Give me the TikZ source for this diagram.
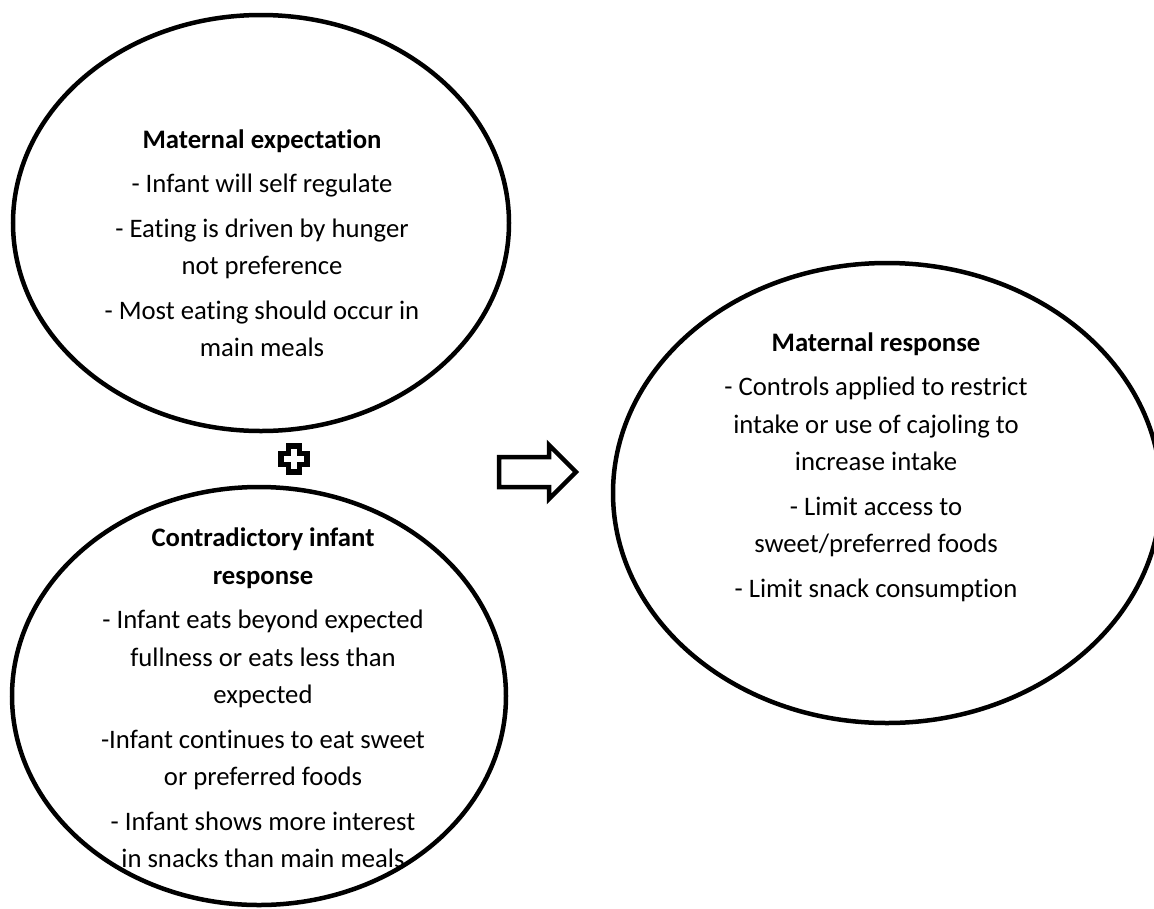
\documentclass[tikz,border=0pt]{standalone}
\usepackage{fontspec}
\setmainfont{Carlito}[Ligatures={NoCommon,NoContextual,NoRare}, RawFeature={-liga;-clig;-calt;-dlig}]
\usetikzlibrary{shapes.geometric,calc}
\tikzset{
  bubble/.style={draw=black, line width=4.5pt, ellipse, inner sep=0pt},
  bubbletext/.style={align=center, inner sep=0pt, font=\fontsize{26.7}{37.5}\selectfont},
  outlineshape/.style={draw=black, line width=4.5pt, line join=miter, fill=white},
  plusshape/.style={draw=black, line width=5.5pt, line join=miter, fill=white},
}
\newcommand{\pgap}{\\[7pt]}
\newcommand{\tI}{t\kern0pt i}
\begin{document}
\begin{tikzpicture}[x=1pt,y=-1pt]
\useasboundingbox (0,0) rectangle (1154,908);
\node[bubble, minimum width=496pt, minimum height=416pt] (expect) at (261,223) {};
\node[bubble, minimum width=494pt, minimum height=418pt] (infant) at (259,696) {};
\node[bubble, minimum width=548pt, minimum height=460pt] (resp) at (887,493) {};

\node[bubbletext] (expecttxt) at (262,243) {\textbf{Maternal expecta\tI on}\pgap
- Infant will self regulate\pgap
- Ea\tI ng is driven by hunger\\ not preference\pgap
- Most ea\tI ng should occur in\\ main meals};

\node[bubbletext] (infanttxt) at (263,698) {\textbf{Contradictory infant}\\ \textbf{response}\pgap
- Infant eats beyond expected\\ fullness or eats less than\\ expected\pgap
-Infant con\tI nues to eat sweet\\ or preferred foods\pgap
- Infant shows more interest\\ in snacks than main meals};

\node[bubbletext] (resptxt) at (876,467) {\textbf{Maternal response}\pgap
- Controls applied to restrict\\ intake or use of cajoling to\\ increase intake\pgap
- Limit access to\\ sweet/preferred foods\pgap
- Limit snack consump\tI on};

% plus sign
\coordinate (plus) at (294,459);
\draw[plusshape] ($(plus)+(-5.5,-13)$) -- ++(11,0) -- ++(0,7.5) -- ++(7.5,0) -- ++(0,11) -- ++(-7.5,0) -- ++(0,7.5) -- ++(-11,0) -- ++(0,-7.5) -- ++(-7.5,0) -- ++(0,-11) -- ++(7.5,0) -- cycle;

% block arrow
\coordinate (arr) at (499,457);
\draw[outlineshape] (arr) -- ++(50,0) -- ++(0,-12) -- ++(27,27) -- ++(-27,27) -- ++(0,-12) -- ++(-50,0) -- cycle;
\end{tikzpicture}
\end{document}
